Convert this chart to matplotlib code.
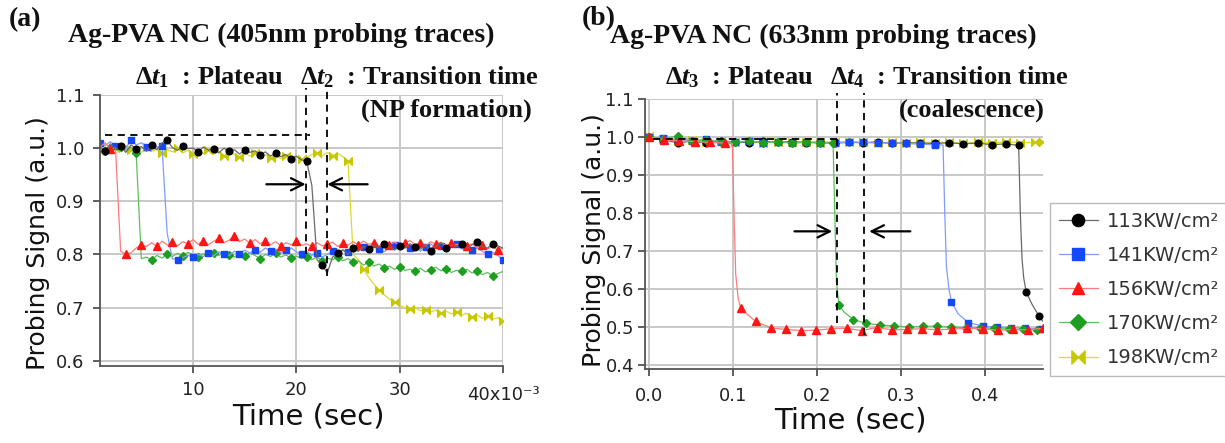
import numpy as np
import matplotlib
matplotlib.use('Agg')
import matplotlib.pyplot as plt
from matplotlib.path import Path
from matplotlib.lines import Line2D

plt.rcParams['font.family'] = ['DejaVu Sans']
plt.rcParams['mathtext.fontset'] = 'custom'
plt.rcParams['mathtext.rm'] = 'Liberation Serif:bold'
plt.rcParams['mathtext.it'] = 'Liberation Serif:bold:italic'
plt.rcParams['mathtext.bf'] = 'Liberation Serif:bold'

# ---------------- data: panel (a), time in ms ----------------
t_a = [1.0, 1.5, 2.0, 2.5, 3.0, 3.5, 4.0, 4.5, 5.0, 5.5,
       6.0, 6.5, 7.0, 7.5, 8.0, 8.5, 9.0, 9.5, 10.0, 10.5,
       11.0, 11.5, 12.0, 12.5, 13.0, 13.5, 14.0, 14.5, 15.0, 15.5,
       16.0, 16.5, 17.0, 17.5, 18.0, 18.5, 19.0, 19.5, 20.0, 20.5,
       21.0, 21.5, 22.0, 22.5, 23.0, 23.5, 24.0, 24.5, 25.0, 25.5,
       26.0, 26.5, 27.0, 27.5, 28.0, 28.5, 29.0, 29.5, 30.0, 30.5,
       31.0, 31.5, 32.0, 32.5, 33.0, 33.5, 34.0, 34.5, 35.0, 35.5,
       36.0, 36.5, 37.0, 37.5, 38.0, 38.5, 39.0, 39.5, 40.0]

a_113 = [1.002, 0.995, 1.008, 0.998, 1.004, 0.992, 1.006, 0.999, 1.003, 0.994,
         1.005, 0.997, 1.010, 1.015, 1.001, 0.996, 1.004, 0.999, 1.000, 0.993,
         1.002, 0.996, 0.999, 0.991, 1.000, 0.994, 0.997, 0.989, 0.996, 0.992,
         0.995, 0.987, 0.993, 0.985, 0.990, 0.984, 0.988, 0.980, 0.985, 0.978,
         0.975, 0.930, 0.790, 0.780, 0.765, 0.795, 0.802, 0.808, 0.800, 0.812,
         0.806, 0.815, 0.810, 0.818, 0.812, 0.820, 0.815, 0.808, 0.816, 0.812,
         0.820, 0.814, 0.810, 0.818, 0.806, 0.815, 0.822, 0.812, 0.818, 0.815,
         0.820, 0.812, 0.818, 0.823, 0.815, 0.812, 0.820, 0.816, 0.812]
a_141 = [1.010, 1.005, 1.012, 1.004, 1.008, 1.000, 1.015, 1.006, 1.010, 1.003,
         1.008, 1.002, 1.004, 0.840, 0.792, 0.790, 0.794, 0.798, 0.795, 0.800,
         0.796, 0.803, 0.797, 0.805, 0.800, 0.798, 0.806, 0.801, 0.808, 0.803,
         0.809, 0.804, 0.812, 0.806, 0.810, 0.803, 0.808, 0.812, 0.805, 0.800,
         0.806, 0.798, 0.803, 0.795, 0.800, 0.806, 0.803, 0.809, 0.804, 0.812,
         0.806, 0.814, 0.808, 0.816, 0.810, 0.805, 0.813, 0.818, 0.809, 0.815,
         0.812, 0.818, 0.806, 0.814, 0.820, 0.811, 0.816, 0.808, 0.814, 0.819,
         0.810, 0.815, 0.808, 0.812, 0.806, 0.800, 0.804, 0.798, 0.790]
a_156 = [1.002, 1.010, 0.998, 1.000, 0.806, 0.800, 0.803, 0.812, 0.818, 0.815,
         0.822, 0.815, 0.825, 0.818, 0.823, 0.816, 0.824, 0.820, 0.828, 0.819,
         0.826, 0.818, 0.825, 0.830, 0.822, 0.827, 0.835, 0.824, 0.829, 0.821,
         0.828, 0.820, 0.826, 0.818, 0.824, 0.816, 0.822, 0.818, 0.825, 0.817,
         0.820, 0.815, 0.822, 0.816, 0.819, 0.823, 0.815, 0.821, 0.817, 0.824,
         0.818, 0.825, 0.819, 0.822, 0.816, 0.824, 0.818, 0.823, 0.817, 0.821,
         0.826, 0.818, 0.822, 0.816, 0.824, 0.819, 0.823, 0.815, 0.821, 0.818,
         0.822, 0.815, 0.820, 0.812, 0.818, 0.810, 0.815, 0.808, 0.812]
a_170 = [1.000, 0.995, 1.005, 0.998, 1.003, 0.996, 1.002, 0.990, 0.792, 0.795,
         0.790, 0.798, 0.793, 0.800, 0.796, 0.802, 0.797, 0.804, 0.799, 0.795,
         0.801, 0.796, 0.803, 0.798, 0.805, 0.799, 0.795, 0.801, 0.797, 0.803,
         0.798, 0.792, 0.800, 0.796, 0.802, 0.795, 0.799, 0.793, 0.797, 0.792,
         0.796, 0.790, 0.795, 0.788, 0.793, 0.790, 0.795, 0.788, 0.792, 0.786,
         0.788, 0.780, 0.785, 0.778, 0.782, 0.775, 0.778, 0.772, 0.776, 0.770,
         0.772, 0.768, 0.774, 0.767, 0.771, 0.776, 0.769, 0.773, 0.766, 0.770,
         0.768, 0.772, 0.765, 0.768, 0.762, 0.766, 0.760, 0.764, 0.768]
a_198 = [0.995, 1.003, 0.990, 1.000, 0.993, 1.005, 0.996, 0.999, 0.992, 1.002,
         0.994, 0.998, 0.990, 0.997, 0.993, 1.000, 0.991, 0.996, 0.989, 0.995,
         0.990, 0.997, 0.988, 0.994, 0.986, 0.992, 0.989, 0.984, 0.991, 0.985,
         0.990, 0.983, 0.988, 0.981, 0.986, 0.980, 0.985, 0.978, 0.984, 0.979,
         0.982, 0.988, 0.990, 0.985, 0.992, 0.986, 0.990, 0.984, 0.975, 0.800,
         0.790, 0.772, 0.757, 0.744, 0.733, 0.724, 0.716, 0.710, 0.704, 0.700,
         0.697, 0.700, 0.694, 0.696, 0.692, 0.695, 0.690, 0.693, 0.688, 0.692,
         0.686, 0.689, 0.683, 0.686, 0.680, 0.684, 0.678, 0.681, 0.675]

# ---------------- data: panel (b), time in s ----------------
t_b156 = [0.000, 0.018, 0.036, 0.054, 0.072, 0.090, 0.099, 0.101, 0.103, 0.106,
          0.109, 0.116, 0.127, 0.145, 0.163, 0.181, 0.199, 0.217, 0.235, 0.253,
          0.271, 0.289, 0.307, 0.325, 0.343, 0.361, 0.379, 0.397, 0.415, 0.433,
          0.451, 0.469]
b_156 = [1.000, 0.993, 0.990, 0.988, 0.986, 0.984, 0.983, 0.800, 0.640, 0.575,
         0.550, 0.535, 0.515, 0.498, 0.494, 0.491, 0.492, 0.496, 0.497, 0.491,
         0.499, 0.493, 0.494, 0.496, 0.493, 0.495, 0.497, 0.496, 0.492, 0.494,
         0.493, 0.497]
m_b156 = [0, 1, 2, 3, 4, 5, 10, 12, 13, 14, 15, 16, 17, 18, 19, 20, 21, 22, 23,
          24, 25, 26, 27, 28, 29, 30, 31]

t_b170 = [0.000, 0.017, 0.034, 0.051, 0.068, 0.085, 0.102, 0.119, 0.136, 0.153,
          0.170, 0.187, 0.204, 0.219, 0.221, 0.223, 0.226, 0.232, 0.243, 0.258,
          0.275, 0.292, 0.309, 0.326, 0.343, 0.360, 0.377, 0.394, 0.411, 0.428,
          0.445, 0.462, 0.469]
b_170 = [1.000, 0.996, 1.003, 0.990, 0.992, 0.988, 0.986, 0.989, 0.985, 0.988,
         0.984, 0.987, 0.985, 0.984, 0.800, 0.620, 0.558, 0.540, 0.520, 0.510,
         0.506, 0.503, 0.501, 0.502, 0.503, 0.500, 0.499, 0.498, 0.497, 0.495,
         0.494, 0.493, 0.492]
m_b170 = [0, 1, 2, 3, 4, 5, 6, 7, 8, 9, 10, 11, 12, 13, 16, 18, 19, 20, 21, 22,
          23, 24, 25, 26, 27, 28, 29, 30, 31]

t_b141 = [0.000, 0.017, 0.034, 0.051, 0.068, 0.085, 0.102, 0.119, 0.136, 0.153,
          0.170, 0.187, 0.204, 0.221, 0.238, 0.255, 0.272, 0.289, 0.306, 0.323,
          0.340, 0.350, 0.352, 0.354, 0.357, 0.360, 0.368, 0.380, 0.397, 0.414,
          0.431, 0.448, 0.465, 0.469]
b_141 = [1.000, 0.997, 0.993, 0.990, 0.994, 0.988, 0.986, 0.990, 0.985, 0.988,
         0.984, 0.986, 0.983, 0.985, 0.987, 0.986, 0.984, 0.985, 0.983, 0.981,
         0.980, 0.979, 0.800, 0.660, 0.600, 0.566, 0.535, 0.512, 0.503, 0.500,
         0.499, 0.497, 0.495, 0.495]
m_b141 = [0, 1, 2, 3, 4, 5, 6, 7, 8, 9, 10, 11, 12, 13, 14, 15, 16, 17, 18, 19,
          20, 25, 27, 28, 29, 30, 31, 32]

t_b113 = [0.000, 0.017, 0.034, 0.051, 0.068, 0.085, 0.102, 0.119, 0.136, 0.153,
          0.170, 0.187, 0.204, 0.221, 0.238, 0.255, 0.272, 0.289, 0.306, 0.323,
          0.340, 0.357, 0.374, 0.391, 0.408, 0.425, 0.440, 0.442, 0.444, 0.446,
          0.449, 0.456, 0.464, 0.469]
b_113 = [1.000, 0.992, 0.985, 0.989, 0.984, 0.990, 0.987, 0.985, 0.989, 0.986,
         0.988, 0.985, 0.987, 0.984, 0.986, 0.985, 0.987, 0.983, 0.985, 0.984,
         0.983, 0.985, 0.982, 0.984, 0.980, 0.982, 0.978, 0.800, 0.680, 0.630,
         0.592, 0.560, 0.530, 0.515]
m_b113 = list(range(0, 27)) + [30, 32]

t_b198 = [0.000, 0.017, 0.034, 0.051, 0.068, 0.085, 0.102, 0.119, 0.136, 0.153,
          0.170, 0.187, 0.204, 0.221, 0.238, 0.255, 0.272, 0.289, 0.306, 0.323,
          0.340, 0.357, 0.374, 0.391, 0.408, 0.425, 0.442, 0.459, 0.469]
b_198 = [1.002, 0.995, 0.990, 0.992, 0.987, 0.990, 0.986, 0.989, 0.985, 0.988,
         0.986, 0.987, 0.985, 0.988, 0.986, 0.987, 0.985, 0.986, 0.984, 0.987,
         0.985, 0.986, 0.984, 0.986, 0.985, 0.987, 0.985, 0.986, 0.986]

labels = ['113KW/cm²', '141KW/cm²', '156KW/cm²', '170KW/cm²', '198KW/cm²']

# ---------------- styles ----------------
bowtie = Path([(-1, -1), (-1, 1), (0, 0), (1, 1), (1, -1), (0, 0), (-1, -1)],
              [Path.MOVETO, Path.LINETO, Path.LINETO, Path.LINETO, Path.LINETO,
               Path.LINETO, Path.CLOSEPOLY])
line_cols = ['#6a6a6a', '#7f9cff', '#ff7a7a', '#5cc05c', '#dada30']
mark_cols = ['#000000', '#1448ff', '#ff1414', '#1e9e1e', '#c8c800']
markers = ['o', 's', '^', 'D', bowtie]
msizes = [4.8, 4.8, 5.2, 4.2, 5.5]

W, H = 1225, 443
def fx(p):
    return p / W
def fy(p):
    return 1 - p / H

fig = plt.figure(figsize=(12.25, 4.43), dpi=100)
axA = fig.add_axes([fx(100), fy(366), 403 / W, (366 - 95) / H])
axB = fig.add_axes([fx(645), fy(369), 398 / W, (369 - 99) / H])

for ax in (axA, axB):
    ax.set_axisbelow(True)
    ax.grid(True, color='#c4c4c4', lw=1.3)
    for s in ('top', 'right'):
        ax.spines[s].set_visible(False)
    for s in ('left', 'bottom'):
        ax.spines[s].set_color('#555555')
        ax.spines[s].set_linewidth(1.3)
    ax.tick_params(direction='out', length=5, width=1.1, colors='#333333',
                   labelsize=13, labelcolor='#222222')
    ax.tick_params(axis='y', pad=6)

# panel (a)
series_a = [a_113, a_141, a_156, a_170, a_198]
offs = [1, 0, 2, 1, 0]
order = [4, 3, 1, 2, 0]
for i in order:
    axA.plot(t_a, series_a[i], color=line_cols[i], lw=0.9,
             marker=markers[i], ms=msizes[i], mfc=mark_cols[i], mec=mark_cols[i],
             markevery=(offs[i], 3))
axA.set_xlim(1.0, 40.0)
axA.set_ylim(0.59, 1.1)
axA.set_xticks([10, 20, 30, 40])
axA.set_xticklabels(['10', '20', '30', ''])
axA.set_yticks([0.6, 0.7, 0.8, 0.9, 1.0, 1.1])
axA.set_yticklabels(['0.6', '0.7', '0.8', '0.9', '1.0', '1.1'])
axA.tick_params(axis='x', pad=6)

dash = dict(color='k', lw=1.3, ls=(0, (4, 3)), clip_on=False)
axA.plot([1.5, 21.3], [1.024, 1.024], **dash)
axA.plot([20.9, 20.9], [0.80, 1.113], **dash)
axA.plot([23.0, 23.0], [0.76, 1.113], **dash)
ap = dict(arrowstyle='->', lw=1.6, color='k', mutation_scale=22, shrinkA=0, shrinkB=0)
axA.annotate('', xy=(20.9, 0.932), xytext=(17.1, 0.932), arrowprops=ap)
axA.annotate('', xy=(23.0, 0.932), xytext=(26.9, 0.932), arrowprops=ap)

# panel (b)
series_b = [(t_b113, b_113, m_b113), (t_b141, b_141, m_b141), (t_b156, b_156, m_b156),
            (t_b170, b_170, m_b170), (t_b198, b_198, None)]
for i in [4, 0, 1, 3, 2]:
    tt, yy, mm = series_b[i]
    axB.plot(tt, yy, color=line_cols[i], lw=0.9,
             marker=markers[i], ms=msizes[i], mfc=mark_cols[i], mec=mark_cols[i],
             markevery=mm)
axB.set_xlim(-0.005, 0.469)
axB.set_ylim(0.39, 1.1)
axB.set_xticks([0.0, 0.1, 0.2, 0.3, 0.4])
axB.set_xticklabels(['0.0', '0.1', '0.2', '0.3', '0.4'])
axB.set_yticks([0.4, 0.5, 0.6, 0.7, 0.8, 0.9, 1.0, 1.1])
axB.set_yticklabels(['0.4', '0.5', '0.6', '0.7', '0.8', '0.9', '1.0', '1.1'])
axB.tick_params(axis='x', pad=8)
axB.tick_params(axis='y', pad=3)

axB.plot([0.005, 0.224], [0.996, 0.996], **dash)
axB.plot([0.224, 0.224], [0.51, 1.116], **dash)
axB.plot([0.256, 0.256], [0.48, 1.116], **dash)
axB.annotate('', xy=(0.218, 0.752), xytext=(0.173, 0.752), arrowprops=ap)
axB.annotate('', xy=(0.262, 0.752), xytext=(0.311, 0.752), arrowprops=ap)

# legend
handles = [Line2D([], [], color=line_cols[i], lw=0.9, marker=markers[i],
                  ms=msizes[i] + 4, mfc=mark_cols[i], mec=mark_cols[i])
           for i in range(5)]
leg = fig.legend(handles, labels, loc='upper left',
                 bbox_to_anchor=(fx(1050), fy(203)), fontsize=14,
                 handlelength=2.0, handletextpad=0.5, labelspacing=0.78,
                 borderpad=0.45, frameon=True, fancybox=False, borderaxespad=0)
leg.get_frame().set_edgecolor('#aaaaaa')
leg.get_frame().set_linewidth(1.0)
for txt in leg.get_texts():
    txt.set_color('#333333')

# texts
serif = dict(family='Liberation Serif', weight='bold', color='#111111')
fig.text(fx(25), fy(20), '(a)', ha='center', va='center', fontsize=20, **serif)
fig.text(fx(599), fy(19), '(b)', ha='center', va='center', fontsize=20, **serif)
fig.text(fx(68), fy(35), 'Ag-PVA NC (405nm probing traces)', ha='left', va='center',
         fontsize=20, **serif)
fig.text(fx(610), fy(36), 'Ag-PVA NC (633nm probing traces)', ha='left', va='center',
         fontsize=20, **serif)

fig.text(fx(135), fy(77), r'$\Delta t_1$  : Plateau', ha='left', va='center', fontsize=19, **serif)
fig.text(fx(300), fy(77), r'$\Delta t_2$  : Transition time', ha='left', va='center', fontsize=19, **serif)
fig.text(fx(532), fy(110), '(NP formation)', ha='right', va='center', fontsize=19, **serif)
fig.text(fx(665), fy(77), r'$\Delta t_3$  : Plateau', ha='left', va='center', fontsize=19, **serif)
fig.text(fx(830), fy(77), r'$\Delta t_4$  : Transition time', ha='left', va='center', fontsize=19, **serif)
fig.text(fx(1045), fy(110), '(coalescence)', ha='right', va='center', fontsize=19, **serif)

fig.text(fx(503), fy(395), '40x10⁻³', ha='center', va='center', fontsize=13, color='#222222')
fig.text(fx(308), fy(416), 'Time (sec)', ha='center', va='center', fontsize=21, color='#111111')
fig.text(fx(850), fy(421), 'Time (sec)', ha='center', va='center', fontsize=21, color='#111111')
fig.text(fx(38), fy(243), 'Probing Signal (a.u.)', ha='center', va='center', rotation=90,
         fontsize=18, color='#111111')
fig.text(fx(594), fy(240), 'Probing Signal (a.u.)', ha='center', va='center', rotation=90,
         fontsize=18, color='#111111')

fig.savefig('out.png', dpi=100)
